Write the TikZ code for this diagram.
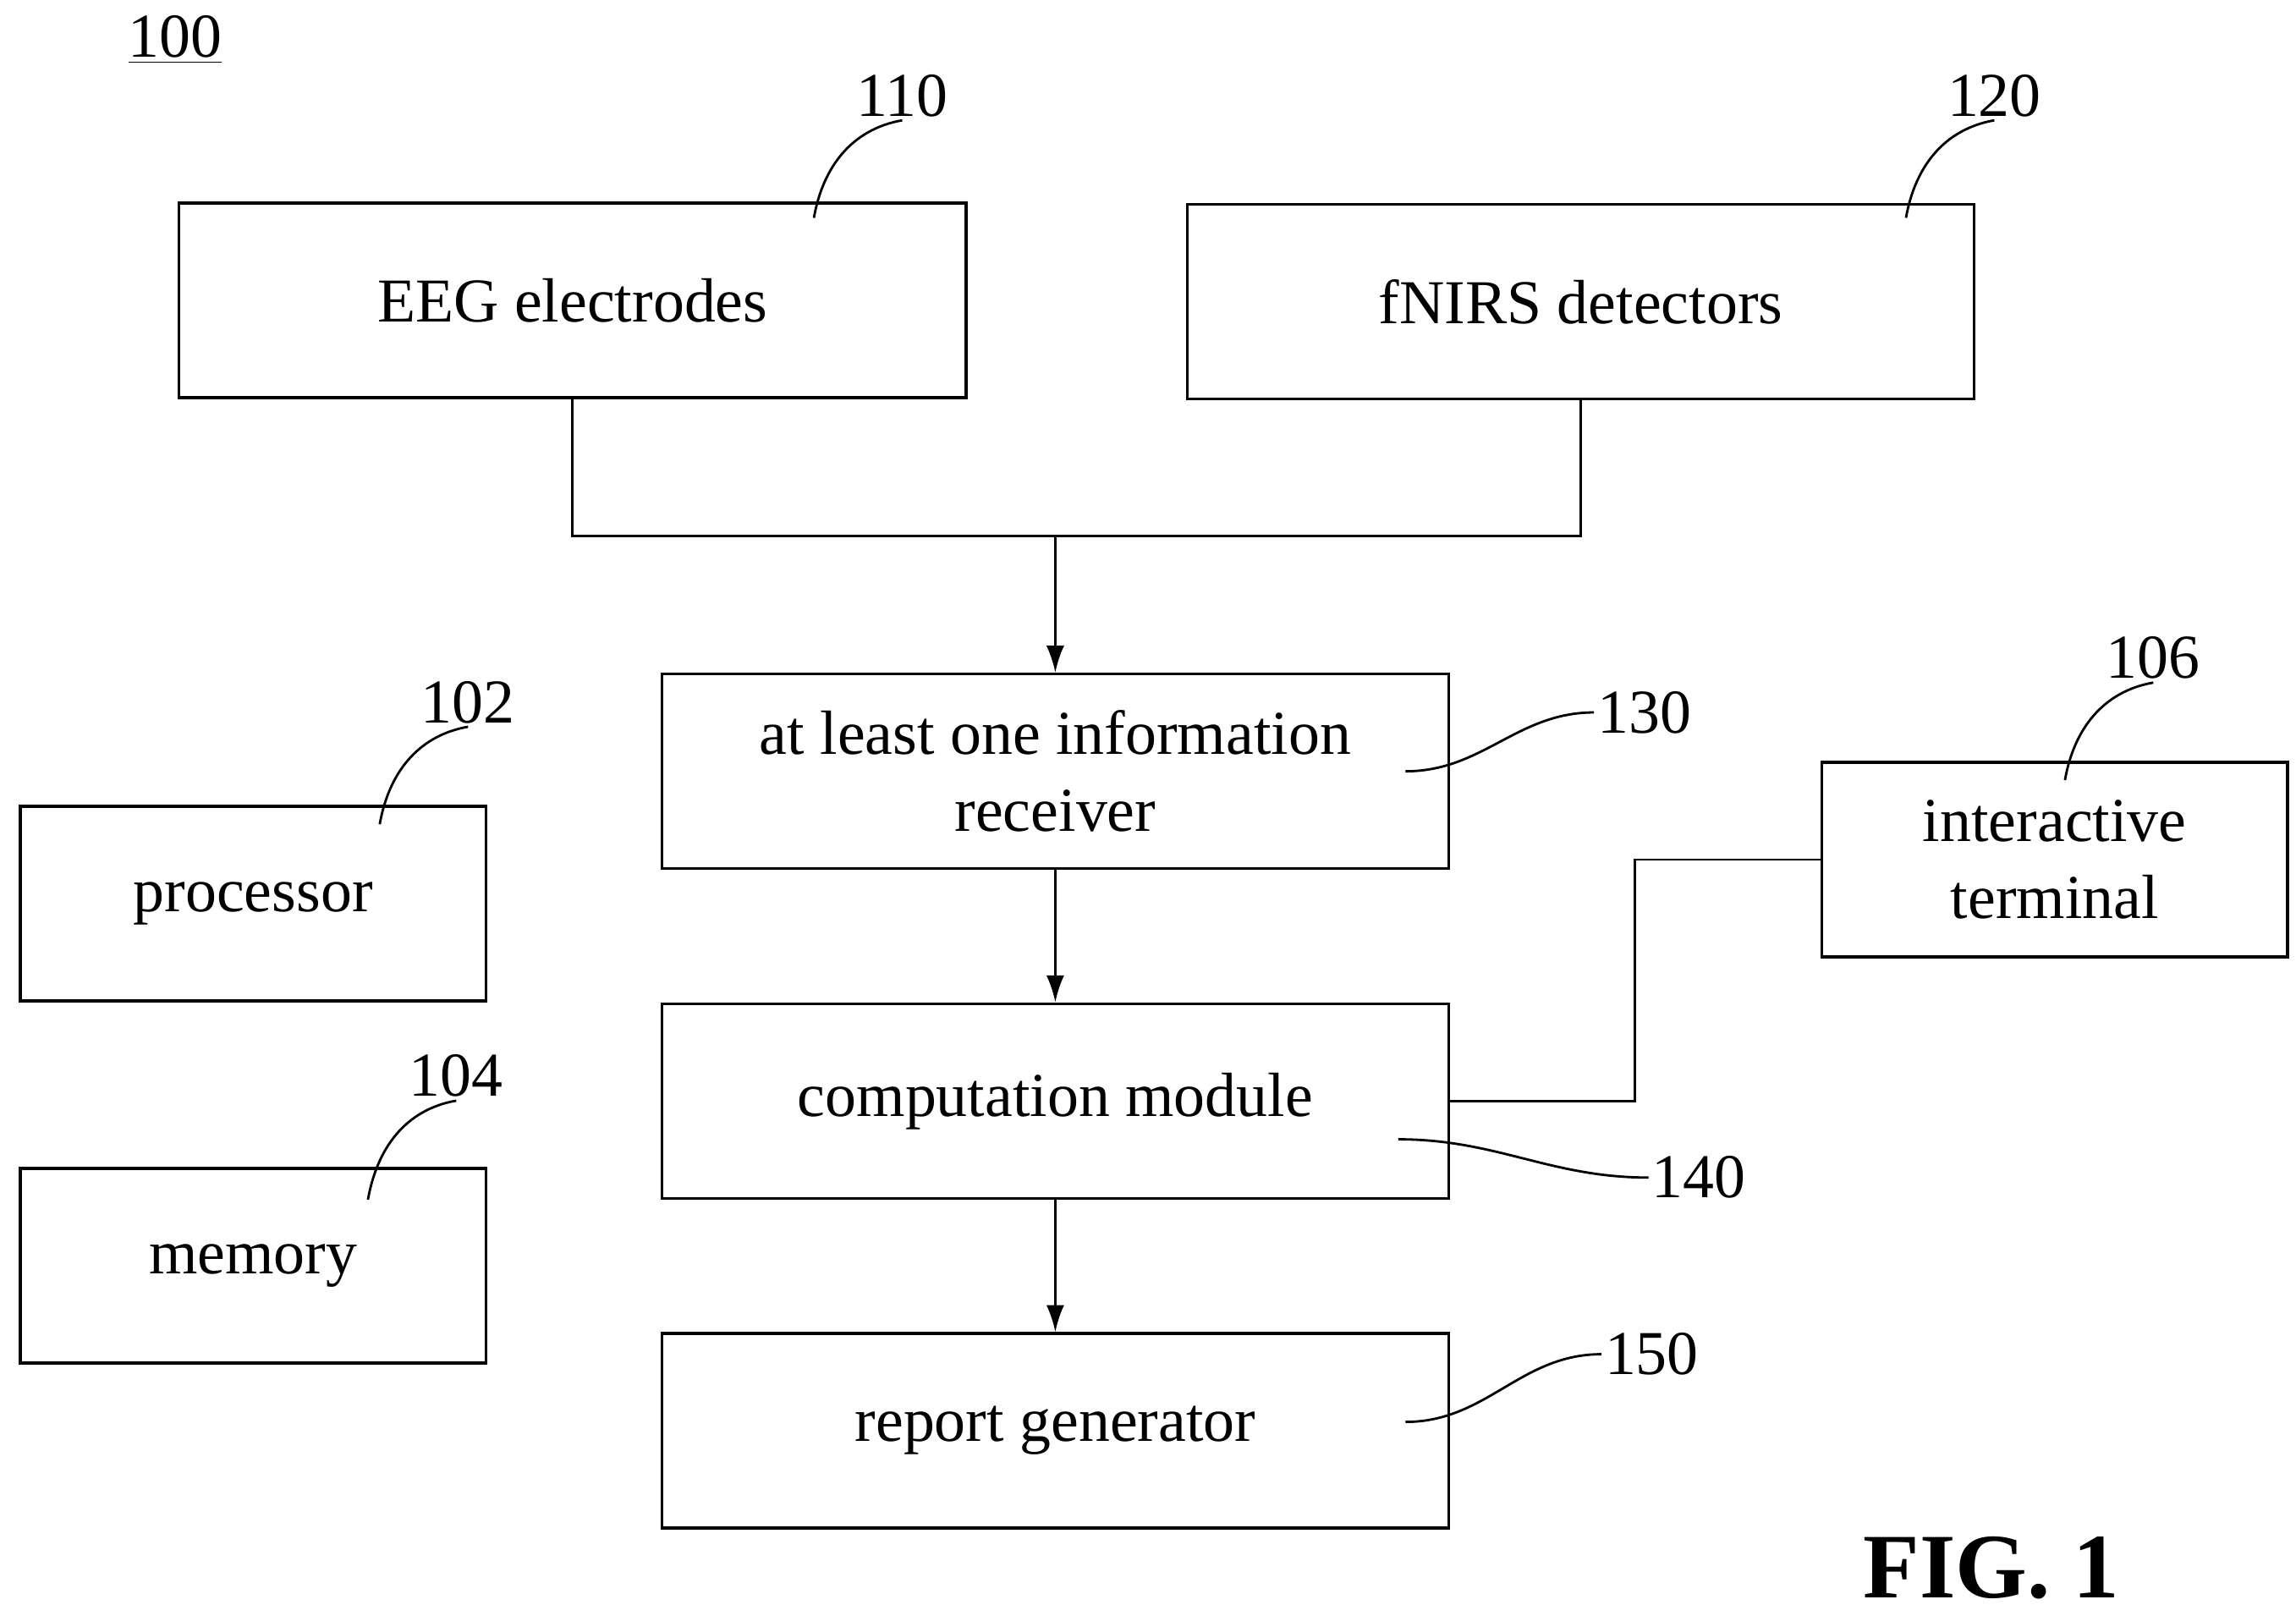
\documentclass[tikz,border=0pt]{standalone}
\usepackage{fontspec}
\setmainfont{Liberation Serif}
\usetikzlibrary{positioning, calc, arrows.meta}
\tikzstyle{Box} = [draw, line width=1pt, minimum width=9.3cm, minimum height=2.3cm,
  align=center, font=\fontsize{21}{26}\selectfont]
\tikzstyle{SmallBox} = [Box, minimum width=5.5cm]
\tikzstyle{Num} = [font=\fontsize{21}{26}\selectfont, inner sep=1pt]
\tikzstyle{Arrow} = [line width=0.8pt, -{Latex[length=9pt,width=6pt]}]
\tikzstyle{Line} = [line width=0.8pt]
\begin{document}
\begin{tikzpicture}[x=0.0174cm, y=-0.0174cm]
    \useasboundingbox (0,0) rectangle (1560,1090);
    \node [Box] (eeg) at (389,204) {EEG electrodes};
    \node [Box] (fnirs) at (1074,205) {fNIRS detectors};
    \node [Box] (recv) at (717,524) {at least one information\\receiver};
    \node [Box] (comp) at (717,748) {computation module};
    \node [Box] (rep) at (717,972) {report generator};
    \node [SmallBox] (proc) at (172,614) {processor};
    \node [SmallBox] (mem) at (172,860) {memory};
    \node [SmallBox] (term) at (1396,584) {interactive\\terminal};
    % connectors
    \coordinate (join) at (717,364);
    \draw[Line] (eeg.south) |- (join) -| (fnirs.south);
    \draw[Arrow] (join) -- (recv.north);
    \draw[Arrow] (recv) -- (comp);
    \draw[Arrow] (comp) -- (rep);
    \coordinate (bend) at (1111,584);
    \draw[Line] (term.west) -- (bend) |- (comp.east);
    % reference numbers
    \node [Num] (n100) at (119,27) {\underline{100}};
    \node [Num] (n110) at (613,65) {110};
    \node [Num] (n120) at (1355,65) {120};
    \node [Num, anchor=west] (n130) at (1083,484) {130};
    \node [Num, anchor=west] (n140) at (1120,800) {140};
    \node [Num, anchor=west] (n150) at (1088,920) {150};
    \node [Num] (n102) at (318,477) {102};
    \node [Num] (n104) at (310,731) {104};
    \node [Num] (n106) at (1463,447) {106};
    \node [font=\bfseries\fontsize{31}{34}\selectfont] (fig) at (1353,1065) {FIG. 1};
    % leaders
    \draw[Line] (553,148) to[out=80,in=190] (n110.south);
    \draw[Line] (1295,148) to[out=80,in=190] (n120.south);
    \draw[Line] (955,524) to[out=0,in=180] (n130.west);
    \draw[Line] (950,774) to[out=0,in=180] (n140.west);
    \draw[Line] (955,966) to[out=0,in=180] (n150.west);
    \draw[Line] (258,560) to[out=80,in=190] (n102.south);
    \draw[Line] (250,815) to[out=80,in=190] (n104.south);
    \draw[Line] (1403,530) to[out=80,in=190] (n106.south);
\end{tikzpicture}
\end{document}
